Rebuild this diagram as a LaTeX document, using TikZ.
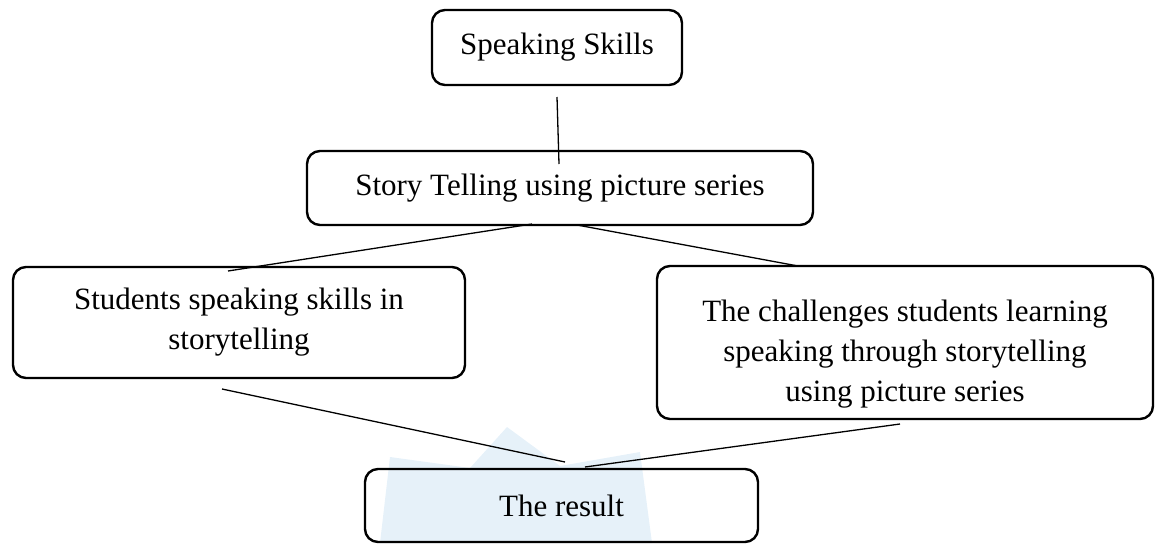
\documentclass[tikz,border=0pt]{standalone}
\usepackage{fontspec}
\setmainfont{Liberation Serif}
\definecolor{markblue}{HTML}{E6F1F9}

\begin{document}
\begin{tikzpicture}[
  x=1pt,
  y=-1pt,
  line join=round,
  box/.style={draw=black,line width=2.4pt,rounded corners=13pt,align=center,
    inner sep=0pt,font=\fontsize{31}{40}\selectfont},
  link/.style={draw=black,line width=1.3pt}
]
  % Match the original artwork frame.
  \useasboundingbox (0,0) rectangle (1158,543);

  % Faint watermark behind the bottom box.
  \fill[markblue] (380,543) -- (390,457) -- (470,468) -- (507,427) -- (560,466)
    -- (640,452) -- (652,543) -- cycle;

  % Boxes of the outline, top to bottom.
  \node[box,minimum width=250,minimum height=75] (skills) at (557,47.5) {Speaking Skills};
  \node[box,minimum width=506,minimum height=74] (story) at (560,188) {Story Telling using picture series};
  \node[box,minimum width=452,minimum height=111] (students) at (239,322.5)
    {Students speaking skills in\\storytelling};
  \node[box,minimum width=496,minimum height=153] (challenges) at (905,342.5)
    {\rule{0pt}{44pt}The challenges students learning\\speaking through storytelling\\using picture series};
  \node[box,minimum width=393,minimum height=73] (result) at (561.5,505.5) {The result};

  % Loose line ends, as in the original artwork.
  \coordinate (skillsEnd) at (557,97);
  \coordinate (storyTop) at (559,164);
  \coordinate (storyLeft) at (532,224);
  \coordinate (storyRight) at (577,225);
  \coordinate (studentsTop) at (228,271);
  \coordinate (challengesTop) at (798,266);
  \coordinate (studentsEnd) at (222,389);
  \coordinate (challengesEnd) at (900,424);
  \coordinate (resultLeft) at (565,462);
  \coordinate (resultRight) at (585,467);

  % Connectors between the levels.
  \draw[link] (skillsEnd) -- (storyTop);
  \draw[link] (storyLeft) -- (studentsTop);
  \draw[link] (storyRight) -- (challengesTop);
  \draw[link] (studentsEnd) -- (resultLeft);
  \draw[link] (challengesEnd) -- (resultRight);
\end{tikzpicture}
\end{document}
